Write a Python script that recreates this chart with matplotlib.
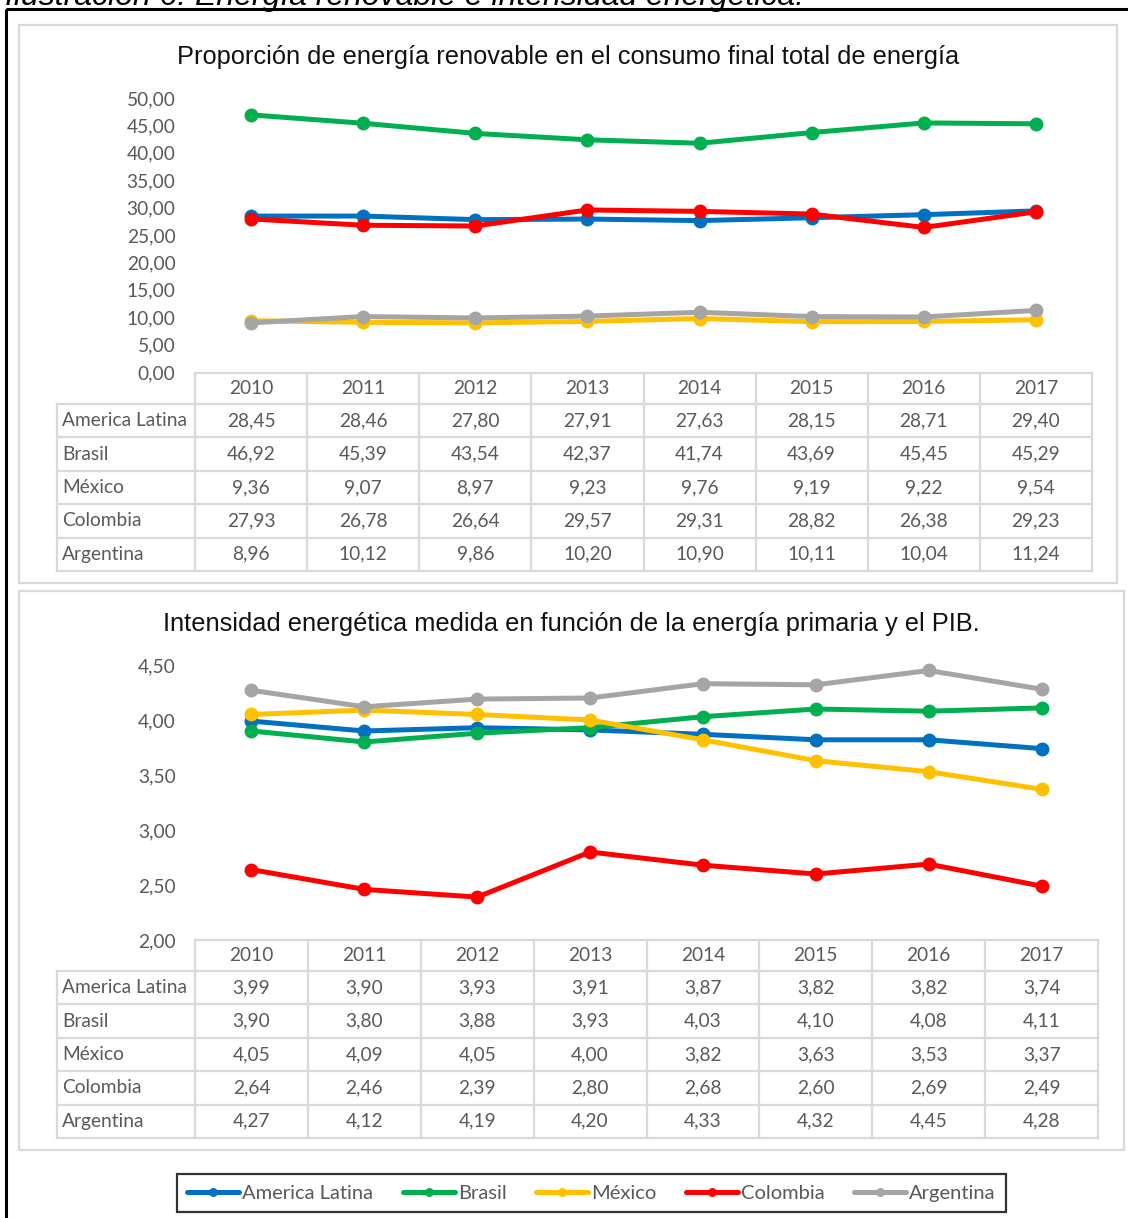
import numpy as np
import matplotlib.pyplot as plt
from matplotlib.patches import Rectangle

W, H = 1128, 1218

years = ['2010', '2011', '2012', '2013', '2014', '2015', '2016', '2017']
countries = ['America Latina', 'Brasil', 'México', 'Colombia', 'Argentina']
colors = ['#0070C0', '#00B050', '#FFC000', '#FF0000', '#A5A5A5']

# Share of renewable energy in total final energy consumption (%)
ren_latam = [28.45, 28.46, 27.80, 27.91, 27.63, 28.15, 28.71, 29.40]
ren_brasil = [46.92, 45.39, 43.54, 42.37, 41.74, 43.69, 45.45, 45.29]
ren_mexico = [9.36, 9.07, 8.97, 9.23, 9.76, 9.19, 9.22, 9.54]
ren_colombia = [27.93, 26.78, 26.64, 29.57, 29.31, 28.82, 26.38, 29.23]
ren_argentina = [8.96, 10.12, 9.86, 10.20, 10.90, 10.11, 10.04, 11.24]

# Energy intensity (primary energy / GDP)
int_latam = [3.99, 3.90, 3.93, 3.91, 3.87, 3.82, 3.82, 3.74]
int_brasil = [3.90, 3.80, 3.88, 3.93, 4.03, 4.10, 4.08, 4.11]
int_mexico = [4.05, 4.09, 4.05, 4.00, 3.82, 3.63, 3.53, 3.37]
int_colombia = [2.64, 2.46, 2.39, 2.80, 2.68, 2.60, 2.69, 2.49]
int_argentina = [4.27, 4.12, 4.19, 4.20, 4.33, 4.32, 4.45, 4.28]

ren_ticks = [0, 5, 10, 15, 20, 25, 30, 35, 40, 45, 50]
int_ticks = [2.0, 2.5, 3.0, 3.5, 4.0, 4.5]

TXT = '#595959'
GRID = '#D9D9D9'
CAL = ['Lato', 'DejaVu Sans']
ARIAL = ['Liberation Sans', 'DejaVu Sans']
FS = 13.8


def fmt(v):
    return f'{v:.2f}'.replace('.', ',')


fig = plt.figure(figsize=(W / 100, H / 100), dpi=100)
fig.patch.set_facecolor('white')

# pixel-space overlay for frames, titles and data tables
bg = fig.add_axes([0, 0, 1, 1])
bg.set_xlim(0, W)
bg.set_ylim(H, 0)
bg.axis('off')

bg.add_patch(Rectangle((6, 9), W + 20, H + 20, fill=False, ec='black', lw=2.2))
bg.text(5, 5, 'Ilustración 6: Energía renovable e intensidad energética.',
        fontsize=23, style='italic', family=ARIAL, va='baseline', ha='left')


def chart(box, title, title_y, title_fs, plot_box, series, ticks, ylim, table_top):
    x0, y0, x1, y1 = box
    bg.add_patch(Rectangle((x0, y0), x1 - x0, y1 - y0, fill=False, ec=GRID, lw=1.6))
    bg.text((x0 + x1) / 2, title_y, title, fontsize=title_fs, family=ARIAL,
            ha='center', va='center', color='#111111')

    px0, py_top, px1, py_bot = plot_box
    ax = fig.add_axes([px0 / W, 1 - py_bot / H, (px1 - px0) / W, (py_bot - py_top) / H])
    ax.patch.set_alpha(0)
    xs = np.arange(len(years))
    lines = []
    for vals, c, name in zip(series, colors, countries):
        ln, = ax.plot(xs, vals, color=c, lw=3.6, marker='o', ms=9, label=name,
                      solid_capstyle='round', clip_on=False)
        lines.append(ln)
    ax.set_xlim(-0.5, len(years) - 0.5)
    ax.set_ylim(*ylim)
    ax.set_yticks(ticks)
    ax.set_yticklabels([fmt(t) for t in ticks], fontsize=FS, family=CAL, color=TXT)
    ax.tick_params(axis='y', length=0, pad=14)
    ax.set_xticks([])
    for s in ax.spines.values():
        s.set_visible(False)

    # data table under the plot
    col_w = (px1 - px0) / len(years)
    head_h = 31
    row_h = 33.4
    label_x = 57
    bottom = table_top + head_h + row_h * len(countries)
    gkw = dict(color=GRID, lw=1.6, zorder=1)
    bg.plot([px0, px1], [table_top, table_top], **gkw)
    for i in range(len(countries) + 1):
        y = table_top + head_h + i * row_h
        bg.plot([label_x, px1], [y, y], **gkw)
    bg.plot([label_x, label_x], [table_top + head_h, bottom], **gkw)
    for j in range(len(years) + 1):
        x = px0 + j * col_w
        bg.plot([x, x], [table_top, bottom], **gkw)
    for j, yr in enumerate(years):
        bg.text(px0 + (j + 0.5) * col_w, table_top + head_h / 2, yr, fontsize=FS,
                family=CAL, color=TXT, ha='center', va='center')
    for i, (name, vals) in enumerate(zip(countries, series)):
        yc = table_top + head_h + (i + 0.5) * row_h
        bg.text(label_x + 5, yc, name, fontsize=FS, family=CAL, color=TXT,
                ha='left', va='center')
        for j, v in enumerate(vals):
            bg.text(px0 + (j + 0.5) * col_w, yc, fmt(v), fontsize=FS, family=CAL,
                    color=TXT, ha='center', va='center')
    return lines


handles = chart((19, 25, 1117, 583),
                'Proporción de energía renovable en el consumo final total de energía', 57, 18.3,
                (195, 98, 1092, 372),
                [ren_latam, ren_brasil, ren_mexico, ren_colombia, ren_argentina],
                ren_ticks, (0, 50), 373)

chart((19, 591, 1124, 1150),
      'Intensidad energética medida en función de la energía primaria y el PIB.', 624, 18.3,
      (195, 665, 1098, 940),
      [int_latam, int_brasil, int_mexico, int_colombia, int_argentina],
      int_ticks, (2.0, 4.5), 940)

leg = fig.legend(handles=handles, labels=countries, loc='center',
                 bbox_to_anchor=(591.5 / W, 1 - 1193 / H), ncol=5, frameon=True,
                 fancybox=False, edgecolor='black', handlelength=2.6,
                 handletextpad=0.15, columnspacing=1.45, borderpad=0.5,
                 prop={'family': 'Lato', 'size': 14.5}, markerscale=0.6)
leg.get_frame().set_linewidth(1.6)
for t in leg.get_texts():
    t.set_color(TXT)

fig.savefig('out.png', dpi=100)
